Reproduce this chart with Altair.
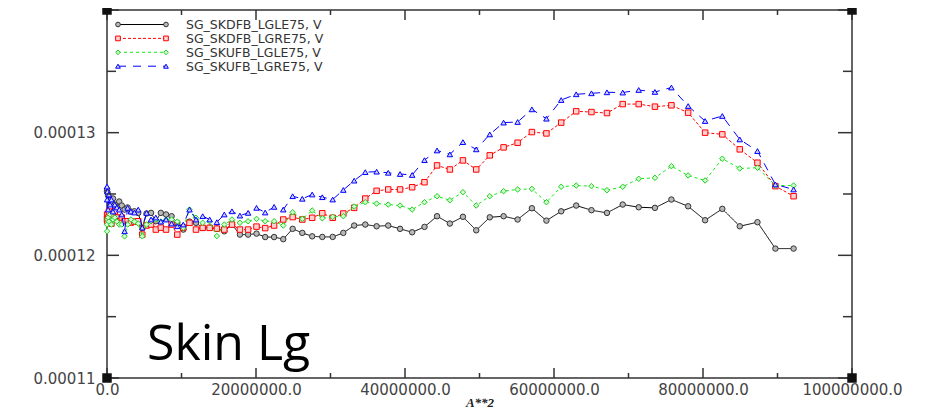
import altair as alt
import pandas as pd

# x values: A**2
A2 = [0, 16384, 65536, 147456, 262144, 409600, 589824, 802816, 1048576, 1327104,
      1638400, 1982464, 2359296, 2768896, 3211264, 3686400, 4194304, 4734976, 5308416, 5914624,
      6553600, 7225344, 7929856, 8667136, 9437184, 10240000, 11075584, 11943936, 12845056, 13778944,
      14745600, 15745024, 16777216, 17842176, 18939904, 20070400, 21233664, 22429696, 23658496, 24920064,
      26214400, 27541504, 28901376, 30294016, 31719424, 33177600, 34668544, 36192256, 37748736, 39337984,
      40960000, 42614784, 44302336, 46022656, 47775744, 49561600, 51380224, 53231616, 55115776, 57032704,
      58982400, 60964864, 62980096, 65028096, 67108864, 69222400, 71368704, 73547776, 75759616, 78004224,
      80281600, 82591744, 84934656, 87310336, 89718784, 92160000]

# series values (volts)
SKDFB_LGLE75 = [1.2520e-4, 1.2537e-4, 1.2512e-4, 1.2488e-4, 1.2471e-4, 1.2455e-4, 1.2431e-4, 1.2463e-4, 1.2414e-4, 1.2390e-4,
                1.2439e-4, 1.2406e-4, 1.2373e-4, 1.2390e-4, 1.2357e-4, 1.2359e-4, 1.2346e-4, 1.2224e-4, 1.2341e-4, 1.2346e-4,
                1.2278e-4, 1.2346e-4, 1.2333e-4, 1.2319e-4, 1.2265e-4, 1.2210e-4, 1.2275e-4, 1.2265e-4, 1.2224e-4, 1.2226e-4,
                1.2218e-4, 1.2196e-4, 1.2251e-4, 1.2169e-4, 1.2169e-4, 1.2177e-4, 1.2149e-4, 1.2149e-4, 1.2132e-4, 1.2216e-4,
                1.2183e-4, 1.2155e-4, 1.2150e-4, 1.2150e-4, 1.2183e-4, 1.2243e-4, 1.2251e-4, 1.2237e-4, 1.2243e-4, 1.2216e-4,
                1.2188e-4, 1.2232e-4, 1.2319e-4, 1.2259e-4, 1.2314e-4, 1.2204e-4, 1.2310e-4, 1.2319e-4, 1.2292e-4, 1.2384e-4,
                1.2283e-4, 1.2359e-4, 1.2406e-4, 1.2368e-4, 1.2346e-4, 1.2414e-4, 1.2392e-4, 1.2387e-4, 1.2455e-4, 1.2400e-4,
                1.2286e-4, 1.2379e-4, 1.2237e-4, 1.2270e-4, 1.2055e-4, 1.2055e-4]

SKDFB_LGRE75 = [1.2292e-4, 1.2333e-4, 1.2275e-4, 1.2308e-4, 1.2357e-4, 1.2292e-4, 1.2259e-4, 1.2333e-4, 1.2359e-4, 1.2308e-4,
                1.2278e-4, 1.2308e-4, 1.2278e-4, 1.2278e-4, 1.2267e-4, 1.2275e-4, 1.2278e-4, 1.2169e-4, 1.2243e-4, 1.2251e-4,
                1.2210e-4, 1.2226e-4, 1.2210e-4, 1.2251e-4, 1.2169e-4, 1.2226e-4, 1.2265e-4, 1.2210e-4, 1.2224e-4, 1.2224e-4,
                1.2218e-4, 1.2210e-4, 1.2251e-4, 1.2210e-4, 1.2210e-4, 1.2234e-4, 1.2222e-4, 1.2243e-4, 1.2292e-4, 1.2312e-4,
                1.2292e-4, 1.2306e-4, 1.2343e-4, 1.2306e-4, 1.2341e-4, 1.2387e-4, 1.2463e-4, 1.2526e-4, 1.2537e-4, 1.2537e-4,
                1.2555e-4, 1.2596e-4, 1.2733e-4, 1.2700e-4, 1.2774e-4, 1.2700e-4, 1.2815e-4, 1.2880e-4, 1.2918e-4, 1.3005e-4,
                1.2994e-4, 1.3082e-4, 1.3174e-4, 1.3168e-4, 1.3160e-4, 1.3233e-4, 1.3233e-4, 1.3212e-4, 1.3223e-4, 1.3163e-4,
                1.3000e-4, 1.2986e-4, 1.2864e-4, 1.2755e-4, 1.2564e-4, 1.2482e-4]

SKUFB_LGLE75 = [1.2251e-4, 1.2196e-4, 1.2292e-4, 1.2308e-4, 1.2275e-4, 1.2333e-4, 1.2251e-4, 1.2292e-4, 1.2308e-4, 1.2275e-4,
                1.2251e-4, 1.2251e-4, 1.2155e-4, 1.2251e-4, 1.2292e-4, 1.2275e-4, 1.2259e-4, 1.2155e-4, 1.2251e-4, 1.2278e-4,
                1.2292e-4, 1.2275e-4, 1.2292e-4, 1.2292e-4, 1.2275e-4, 1.2224e-4, 1.2373e-4, 1.2306e-4, 1.2265e-4, 1.2278e-4,
                1.2157e-4, 1.2251e-4, 1.2292e-4, 1.2265e-4, 1.2278e-4, 1.2297e-4, 1.2278e-4, 1.2278e-4, 1.2243e-4, 1.2351e-4,
                1.2297e-4, 1.2365e-4, 1.2302e-4, 1.2314e-4, 1.2319e-4, 1.2398e-4, 1.2433e-4, 1.2422e-4, 1.2414e-4, 1.2406e-4,
                1.2373e-4, 1.2433e-4, 1.2482e-4, 1.2449e-4, 1.2515e-4, 1.2406e-4, 1.2482e-4, 1.2523e-4, 1.2537e-4, 1.2542e-4,
                1.2433e-4, 1.2559e-4, 1.2569e-4, 1.2564e-4, 1.2531e-4, 1.2559e-4, 1.2624e-4, 1.2632e-4, 1.2727e-4, 1.2651e-4,
                1.2610e-4, 1.2788e-4, 1.2708e-4, 1.2714e-4, 1.2569e-4, 1.2569e-4]

SKUFB_LGRE75 = [1.2561e-4, 1.2455e-4, 1.2520e-4, 1.2373e-4, 1.2496e-4, 1.2414e-4, 1.2455e-4, 1.2357e-4, 1.2414e-4, 1.2390e-4,
                1.2373e-4, 1.2333e-4, 1.2196e-4, 1.2387e-4, 1.2357e-4, 1.2349e-4, 1.2373e-4, 1.2226e-4, 1.2346e-4, 1.2292e-4,
                1.2308e-4, 1.2275e-4, 1.2292e-4, 1.2259e-4, 1.2237e-4, 1.2251e-4, 1.2373e-4, 1.2292e-4, 1.2319e-4, 1.2292e-4,
                1.2270e-4, 1.2333e-4, 1.2359e-4, 1.2324e-4, 1.2346e-4, 1.2387e-4, 1.2349e-4, 1.2395e-4, 1.2373e-4, 1.2482e-4,
                1.2461e-4, 1.2496e-4, 1.2474e-4, 1.2455e-4, 1.2533e-4, 1.2609e-4, 1.2678e-4, 1.2682e-4, 1.2673e-4, 1.2663e-4,
                1.2655e-4, 1.2776e-4, 1.2855e-4, 1.2823e-4, 1.2923e-4, 1.2864e-4, 1.2986e-4, 1.3082e-4, 1.3087e-4, 1.3190e-4,
                1.3114e-4, 1.3266e-4, 1.3313e-4, 1.3321e-4, 1.3329e-4, 1.3327e-4, 1.3348e-4, 1.3332e-4, 1.3368e-4, 1.3217e-4,
                1.3095e-4, 1.3136e-4, 1.2945e-4, 1.2850e-4, 1.2578e-4, 1.2537e-4]

NAMES = ["SG_SKDFB_LGLE75, V", "SG_SKDFB_LGRE75, V", "SG_SKUFB_LGLE75, V", "SG_SKUFB_LGRE75, V"]
LINE_COLORS = ["#000000", "#ff0000", "#11ee11", "#0000ff"]
MARK_STROKE = ["#333333", "#ff0000", "#22cc22", "#0000ff"]
MARK_FILL = ["#b8b8b8", "#ffd0d0", "#d0ffd0", "#d0d0ff"]
DASHES = [[1, 0], [3, 2], [3, 3], [8, 7]]
SHAPES = ["circle", "square", "diamond", "triangle-up"]

X_MAJOR = [0, 20000000, 40000000, 60000000, 80000000, 100000000]
X_MINOR = [10000000, 30000000, 50000000, 70000000, 90000000]
Y_MAJOR = [0.00011, 0.00012, 0.00013, 0.00014]
Y_MINOR = [0.000115, 0.000125, 0.000135]
Y_LABELS = [0.00011, 0.00012, 0.00013]

W, H = 745, 368
FONT = "DejaVu Sans"

xs = alt.Scale(domain=[0, 100000000], nice=False, zero=False)
ys = alt.Scale(domain=[0.00011, 0.00014], nice=False, zero=False)

X_AXIS = alt.Axis(values=X_MAJOR, format=".1f", ticks=False, domain=False, grid=False,
                  labelFont=FONT, labelFontSize=15, labelColor="#444", labelPadding=4,
                  labelFlush=False, labelOverlap=False,
                  title="A**2", titleFont="Liberation Serif", titleFontStyle="italic",
                  titleFontSize=13, titleFontWeight="bold", titleColor="#222",
                  titleBaseline="alphabetic", titleY=28)
Y_AXIS = alt.Axis(values=Y_LABELS, format=".5f", ticks=False, domain=False, grid=False,
                  labelFont=FONT, labelFontSize=15, labelColor="#444", labelPadding=12,
                  labelFlush=False, labelOverlap=False, title=None)


def xenc(field):
    return alt.X(field, scale=xs, axis=X_AXIS)


def yenc(field):
    return alt.Y(field, scale=ys, axis=Y_AXIS)


rows = []
for name, vals in zip(NAMES, [SKDFB_LGLE75, SKDFB_LGRE75, SKUFB_LGLE75, SKUFB_LGRE75]):
    for x, y in zip(A2, vals):
        rows.append({"series": name, "A2": x, "v": y})
df = pd.DataFrame(rows)

layers = []
for i, name in enumerate(NAMES):
    base = alt.Chart(df).transform_filter(alt.datum.series == name)
    line = base.mark_line(color=LINE_COLORS[i], strokeWidth=1, strokeDash=DASHES[i]).encode(
        x=xenc("A2:Q"), y=yenc("v:Q"))
    pts = base.mark_point(shape=SHAPES[i], filled=True, fill=MARK_FILL[i], stroke=MARK_STROKE[i],
                          strokeWidth=1, size=30, opacity=1).encode(
        x=xenc("A2:Q"), y=yenc("v:Q"))
    layers += [line, pts]

# inward ticks
tx_major = pd.DataFrame({"A2": X_MAJOR})
tx_minor = pd.DataFrame({"A2": X_MINOR})
ty_major = pd.DataFrame({"v": Y_MAJOR})
ty_minor = pd.DataFrame({"v": Y_MINOR})
tick_style = dict(color="#333", strokeWidth=1.5)
for d, ln in [(tx_major, 10), (tx_minor, 5)]:
    layers.append(alt.Chart(d).mark_rule(**tick_style).encode(
        x=xenc("A2:Q"), y=alt.value(H), y2=alt.value(H - ln)))
    layers.append(alt.Chart(d).mark_rule(**tick_style).encode(
        x=xenc("A2:Q"), y=alt.value(0), y2=alt.value(ln)))
for d, ln_l, ln_r in [(ty_major, 12, 14), (ty_minor, 9, 9)]:
    layers.append(alt.Chart(d).mark_rule(**tick_style).encode(
        y=yenc("v:Q"), x=alt.value(0), x2=alt.value(ln_l)))
    layers.append(alt.Chart(d).mark_rule(**tick_style).encode(
        y=yenc("v:Q"), x=alt.value(W), x2=alt.value(W - ln_r)))

# corner squares
corners = pd.DataFrame({"A2": [0, 100000000, 0, 100000000], "v": [0.00011, 0.00011, 0.00014, 0.00014]})
layers.append(alt.Chart(corners).mark_square(size=90, color="#111", opacity=1).encode(
    x=xenc("A2:Q"), y=yenc("v:Q")))

# legend
for i, name in enumerate(NAMES):
    ly = 14.5 + 13.9 * i
    ld = pd.DataFrame({"name": [name]})
    layers.append(alt.Chart(ld).mark_rule(color=LINE_COLORS[i], strokeWidth=1, strokeDash=DASHES[i]).encode(
        x=alt.value(11), x2=alt.value(59), y=alt.value(ly)))
    for px in (11, 59):
        layers.append(alt.Chart(ld).mark_point(shape=SHAPES[i], filled=True, fill=MARK_FILL[i],
                                               stroke=MARK_STROKE[i], strokeWidth=1, size=22, opacity=1).encode(
            x=alt.value(px), y=alt.value(ly)))
    layers.append(alt.Chart(ld).mark_text(align="left", baseline="middle", font=FONT, fontSize=12.5,
                                          color="#333").encode(
        x=alt.value(79), y=alt.value(ly + 0.5), text="name:N"))

# big annotation
layers.append(alt.Chart(pd.DataFrame({"label": ["Skin Lg"]})).mark_text(
    align="left", baseline="alphabetic", font="Open Sans", fontSize=50, color="#000").encode(
    x=alt.value(40), y=alt.value(350), text="label:N"))

chart = alt.layer(*layers).properties(
    width=W, height=H,
    padding={"left": 99, "top": 2, "right": 70, "bottom": 32},
    autosize=alt.AutoSizeParams(type="none"),
).configure_view(stroke="#333", strokeWidth=1.5)

chart.save("out.html", embed_options={"renderer": "svg", "actions": False})
